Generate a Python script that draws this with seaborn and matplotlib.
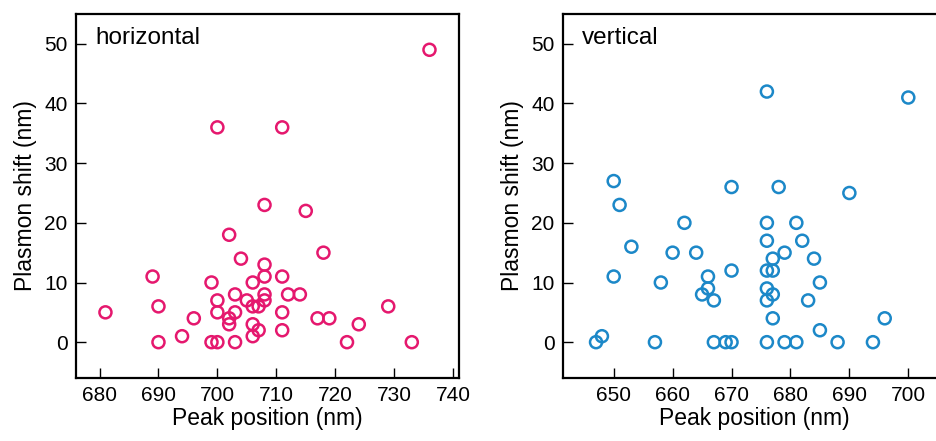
import matplotlib
matplotlib.use("Agg")
import matplotlib.pyplot as plt
import seaborn as sns
import pandas as pd

# horizontal polarisation: peak position (nm) vs plasmon shift (nm)
horiz_peak = [736, 700, 711, 708, 715, 702, 718, 704, 708, 689, 708, 711,
              699, 706, 703, 708, 712, 714, 700, 705, 708, 690, 706, 707,
              729, 681, 700, 703, 711, 696, 702, 717, 719, 702, 706, 724,
              694, 707, 706, 711, 690, 699, 700, 703, 722, 733]
horiz_shift = [49, 36, 36, 23, 22, 18, 15, 14, 13, 11, 11, 11,
               10, 10, 8, 8, 8, 8, 7, 7, 7, 6, 6, 6,
               6, 5, 5, 5, 5, 4, 4, 4, 4, 3, 3, 3,
               1, 2, 1, 2, 0, 0, 0, 0, 0, 0]

# vertical polarisation
vert_peak = [676, 700, 650, 670, 678, 690, 651, 662, 676, 681, 653, 676,
             682, 660, 664, 679, 677, 684, 670, 676, 677, 650, 666, 658,
             685, 666, 676, 665, 677, 667, 676, 683, 677, 696, 685, 648,
             647, 657, 667, 669, 670, 676, 679, 681, 688, 694]
vert_shift = [42, 41, 27, 26, 26, 25, 23, 20, 20, 20, 16, 17,
              17, 15, 15, 15, 14, 14, 12, 12, 12, 11, 11, 10,
              10, 9, 9, 8, 8, 7, 7, 7, 4, 4, 2, 1,
              0, 0, 0, 0, 0, 0, 0, 0, 0, 0]

pink = "#E5186E"
blue = "#1C88C8"

sns.set_style("ticks")
plt.rcParams["font.family"] = ["Liberation Sans Narrow", "Liberation Sans", "DejaVu Sans"]
for key in ["text.color", "axes.labelcolor", "xtick.color", "ytick.color"]:
    plt.rcParams[key] = "black"

df_h = pd.DataFrame({"peak": horiz_peak, "shift": horiz_shift})
df_v = pd.DataFrame({"peak": vert_peak, "shift": vert_shift})

fig = plt.figure(figsize=(9.37, 4.41), dpi=100)
ax_h = fig.add_axes([0.0811, 0.1429, 0.4087, 0.8254])
ax_v = fig.add_axes([0.6009, 0.1429, 0.4087, 0.8254])

panels = [
    (ax_h, df_h, pink, "horizontal", (676, 741), [680, 690, 700, 710, 720, 730, 740]),
    (ax_v, df_v, blue, "vertical", (641.4, 706.4), [650, 660, 670, 680, 690, 700]),
]

for ax, df, col, name, xlim, xticks in panels:
    sns.scatterplot(data=df, x="peak", y="shift", ax=ax, s=75,
                    facecolors="none", edgecolor=col, linewidth=1.8, marker="o")
    ax.set_xlim(xlim)
    ax.set_ylim(-6, 55)
    ax.set_xticks(xticks)
    ax.set_yticks([0, 10, 20, 30, 40, 50])
    ax.tick_params(direction="in", length=7, width=1, labelsize=15, pad=6)
    for sp in ax.spines.values():
        sp.set_linewidth(1.6)
        sp.set_color("black")
    ax.set_xlabel("Peak position (nm)", fontsize=16.5, labelpad=1)
    ax.set_ylabel("Plasmon shift (nm)", fontsize=16.5, labelpad=5)
    ax.text(0.05, 0.965, name, transform=ax.transAxes, fontsize=17.5,
            ha="left", va="top")

fig.savefig("out.png", dpi=100)
